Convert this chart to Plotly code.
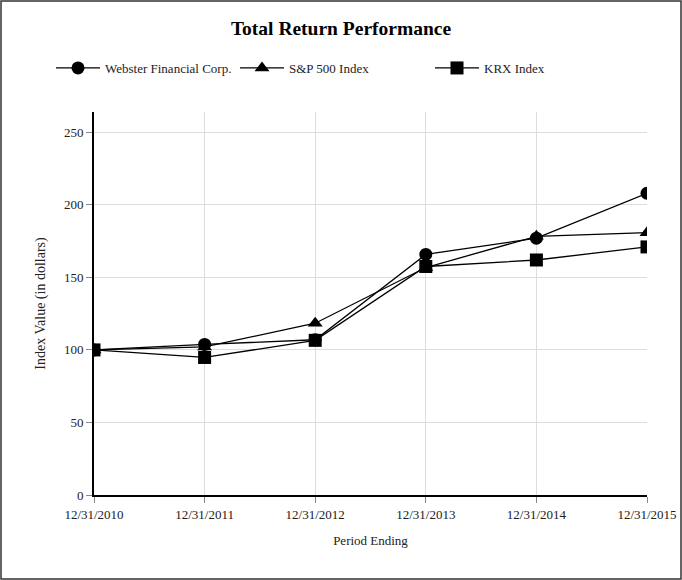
import plotly.graph_objects as go

periods = ["12/31/2010", "12/31/2011", "12/31/2012", "12/31/2013", "12/31/2014", "12/31/2015"]
webster = [100, 103.8, 107.0, 165.8, 177.0, 208.0]
sp500 = [100, 102.1, 118.4, 156.8, 178.3, 180.8]
krx = [100, 94.8, 106.6, 157.5, 162.0, 171.0]

FONT = "Liberation Serif"
W, H = 682, 580
L, R, T, B = 94, 35, 112, 85
pw, ph = W - L - R, H - T - B

fig = go.Figure()
series = [("Webster Financial Corp.", webster, "circle", 13, "legend", 51),
          ("S&P 500 Index", sp500, "triangle-up", 13, "legend2", 235),
          ("KRX Index", krx, "square", 13, "legend3", 430)]
legends = {}
for name, vals, sym, sz, lg, lx in series:
    fig.add_trace(go.Scatter(x=periods, y=vals, name=name, mode="lines+markers", legend=lg,
                             showlegend=True,
                             line=dict(color="black", width=1.3),
                             marker=dict(symbol=sym, size=sz, color="black")))
    legends[lg] = dict(orientation="h", xref="container", yref="container", x=lx / W,
                       xanchor="left", y=1 - 68 / H, yanchor="middle", itemwidth=44,
                       bgcolor="rgba(0,0,0,0)",
                       font=dict(family=FONT, size=13, color="#222"))

fig.update_layout(
    width=W, height=H, showlegend=True,
    margin=dict(l=L, r=R, t=T, b=B, autoexpand=False),
    paper_bgcolor="white", plot_bgcolor="white",
    font=dict(family=FONT, size=13, color="#222"),
    title=dict(text="<b>Total Return Performance</b>", x=0.5, xanchor="center",
               y=1 - 28 / H, yanchor="middle", font=dict(family=FONT, size=19.5, color="black")),
    xaxis=dict(type="category", range=[0, 5], showgrid=True, gridcolor="#dddddd", gridwidth=1,
               showline=True, linecolor="black", linewidth=2, ticks="outside", ticklen=6,
               tickcolor="#888", automargin=False, zeroline=False,
               tickfont=dict(size=13),
               title=dict(text="Period Ending", font=dict(size=13))),
    yaxis=dict(range=[0, 264], tickvals=[0, 50, 100, 150, 200, 250], showgrid=True,
               gridcolor="#dddddd", gridwidth=1, showline=True, linecolor="black", linewidth=2,
               ticks="outside", ticklen=6, tickcolor="#888", zeroline=False, automargin=False,
               tickfont=dict(size=13),
               title=dict(text="Index Value (in dollars)", font=dict(size=14))),
    shapes=[dict(type="rect", xref="paper", yref="paper",
                 x0=-(L - 1) / pw, x1=1 + (R - 1) / pw,
                 y0=-(B - 1) / ph, y1=1 + (T - 1) / ph,
                 line=dict(color="#333", width=1.5), layer="below")],
    **legends,
)
fig.write_html("out.html", config={"displayModeBar": False},
               post_script="document.body.style.margin='0';document.body.style.overflow='hidden';")
